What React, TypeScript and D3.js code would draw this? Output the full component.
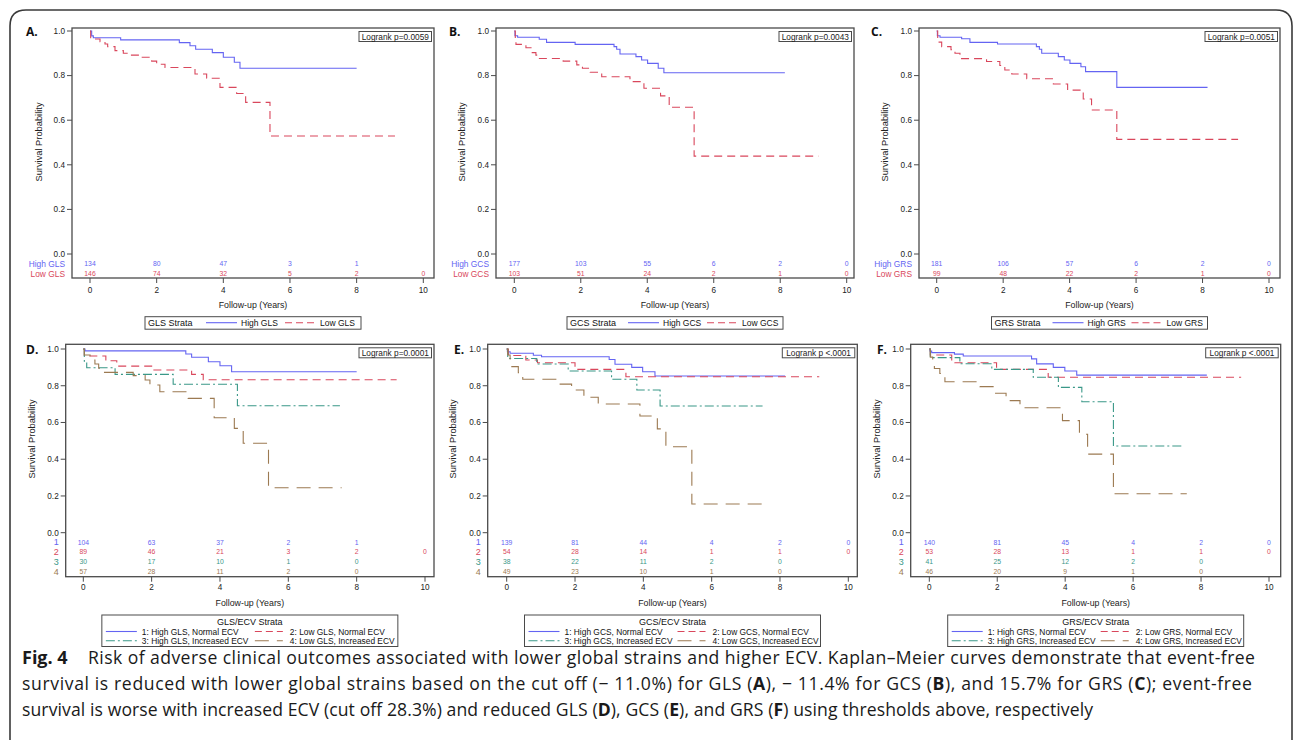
import React from 'react';
import * as d3 from 'd3';

type Pt = [number, number];

// ---------- data ----------
const yearTicks = [0, 2, 4, 6, 8, 10];
const survTicks = [0, 0.2, 0.4, 0.6, 0.8, 1.0];

// Panel A (GLS)
const glsHigh: Pt[] = [[0, 1], [0.05, 0.978], [0.1, 0.97], [0.92, 0.96], [2.68, 0.948], [3.0, 0.934], [3.17, 0.918], [3.67, 0.903], [4.0, 0.882], [4.33, 0.86], [4.5, 0.833], [8.0, 0.833]];
const glsLow: Pt[] = [[0, 1], [0.02, 0.964], [0.3, 0.952], [0.45, 0.942], [0.53, 0.93], [0.75, 0.912], [1.0, 0.9], [1.2, 0.892], [1.48, 0.882], [1.85, 0.865], [2.0, 0.851], [2.25, 0.836], [3.15, 0.807], [3.5, 0.788], [3.9, 0.747], [4.4, 0.72], [4.67, 0.68], [5.4, 0.529], [9.15, 0.529]];
// Panel B (GCS)
const gcsHigh: Pt[] = [[0, 1], [0.02, 0.979], [0.1, 0.972], [0.75, 0.963], [0.97, 0.949], [1.83, 0.94], [3.0, 0.93], [3.08, 0.918], [3.18, 0.897], [3.66, 0.885], [3.83, 0.87], [4.01, 0.855], [4.33, 0.833], [4.5, 0.813], [8.14, 0.813]];
const gcsLow: Pt[] = [[0, 1], [0.03, 0.965], [0.05, 0.94], [0.35, 0.925], [0.52, 0.903], [0.65, 0.892], [0.72, 0.877], [1.47, 0.865], [1.88, 0.848], [2.05, 0.833], [2.28, 0.815], [2.63, 0.795], [3.48, 0.773], [3.9, 0.743], [4.4, 0.709], [4.66, 0.658], [5.41, 0.439], [9.15, 0.439]];
// Panel C (GRS)
const grsHigh: Pt[] = [[0, 1], [0.02, 0.979], [0.1, 0.972], [0.75, 0.965], [1.0, 0.949], [1.83, 0.942], [3.0, 0.93], [3.09, 0.918], [3.16, 0.9], [3.66, 0.885], [3.84, 0.87], [4.01, 0.855], [4.34, 0.84], [4.48, 0.818], [5.42, 0.747], [8.15, 0.747]];
const grsLow: Pt[] = [[0, 1], [0.03, 0.962], [0.05, 0.95], [0.15, 0.93], [0.43, 0.916], [0.55, 0.9], [0.7, 0.876], [1.5, 0.863], [1.9, 0.845], [2.05, 0.825], [2.26, 0.807], [2.71, 0.786], [3.51, 0.762], [3.94, 0.735], [4.41, 0.695], [4.66, 0.646], [5.42, 0.514], [9.07, 0.514]];
// Panel D (GLS/ECV)
const glsEcv1: Pt[] = [[0, 1], [0.05, 0.99], [3.0, 0.973], [3.17, 0.955], [3.66, 0.931], [4.0, 0.909], [4.34, 0.876], [8.0, 0.876]];
const glsEcv2: Pt[] = [[0, 1], [0.03, 0.962], [0.66, 0.936], [0.98, 0.907], [2.0, 0.886], [3.17, 0.862], [3.51, 0.833], [9.17, 0.833]];
const glsEcv3: Pt[] = [[0, 1], [0.03, 0.933], [0.1, 0.898], [0.93, 0.862], [2.63, 0.808], [4.51, 0.691], [7.51, 0.691]];
const glsEcv4: Pt[] = [[0, 1], [0.03, 0.967], [0.2, 0.94], [0.34, 0.918], [0.45, 0.895], [0.54, 0.873], [1.46, 0.855], [1.81, 0.831], [1.95, 0.804], [2.24, 0.767], [3.07, 0.731], [3.83, 0.626], [4.42, 0.568], [4.68, 0.487], [5.42, 0.245], [7.56, 0.245]];
// Panel E (GCS/ECV)
const gcsEcv1: Pt[] = [[0, 1], [0.02, 0.985], [0.1, 0.977], [0.78, 0.966], [1.02, 0.958], [3.0, 0.943], [3.17, 0.917], [3.66, 0.9], [3.98, 0.876], [4.34, 0.853], [8.15, 0.853]];
const gcsEcv2: Pt[] = [[0, 1], [0.05, 0.965], [0.56, 0.94], [0.9, 0.925], [2.0, 0.889], [3.49, 0.849], [9.15, 0.849]];
const gcsEcv3: Pt[] = [[0, 1], [0.03, 0.948], [0.88, 0.918], [1.8, 0.88], [3.07, 0.835], [3.81, 0.777], [4.49, 0.69], [7.49, 0.69]];
const gcsEcv4: Pt[] = [[0, 1], [0.03, 0.967], [0.1, 0.93], [0.15, 0.904], [0.34, 0.871], [0.47, 0.835], [1.46, 0.809], [1.9, 0.777], [2.26, 0.737], [2.68, 0.701], [3.9, 0.635], [4.41, 0.565], [4.66, 0.468], [5.42, 0.156], [7.58, 0.156]];
// Panel F (GRS/ECV)
const grsEcv1: Pt[] = [[0, 1], [0.02, 0.989], [0.07, 0.98], [0.74, 0.972], [1.0, 0.962], [3.01, 0.946], [3.16, 0.919], [3.65, 0.9], [3.99, 0.88], [4.34, 0.858], [8.17, 0.858]];
const grsEcv2: Pt[] = [[0, 1], [0.03, 0.967], [0.66, 0.94], [0.75, 0.925], [1.98, 0.889], [3.5, 0.846], [9.18, 0.846]];
const grsEcv3: Pt[] = [[0, 1], [0.03, 0.953], [0.9, 0.92], [1.84, 0.889], [3.06, 0.846], [3.8, 0.791], [4.49, 0.713], [5.42, 0.472], [7.43, 0.472]];
const grsEcv4: Pt[] = [[0, 1], [0.03, 0.956], [0.1, 0.93], [0.15, 0.894], [0.31, 0.867], [0.46, 0.822], [1.49, 0.795], [1.93, 0.759], [2.26, 0.719], [2.67, 0.68], [3.92, 0.61], [4.42, 0.536], [4.66, 0.428], [5.42, 0.212], [7.58, 0.212]];

// numbers at risk
const riskA = [[134, 80, 47, 3, 1], [146, 74, 32, 5, 2, 0]];
const riskB = [[177, 103, 55, 6, 2, 0], [103, 51, 24, 2, 1, 0]];
const riskC = [[181, 106, 57, 6, 2, 0], [99, 48, 22, 2, 1, 0]];
const riskD = [[104, 63, 37, 2, 1], [89, 46, 21, 3, 2, 0], [30, 17, 10, 1, 0], [57, 28, 11, 2, 0]];
const riskE = [[139, 81, 44, 4, 2, 0], [54, 28, 14, 1, 1, 0], [38, 22, 11, 2, 0], [49, 23, 10, 1, 0]];
const riskF = [[140, 81, 45, 4, 2, 0], [53, 28, 13, 1, 1, 0], [41, 25, 12, 2, 0], [46, 20, 9, 1, 0]];

const pValues = ['Logrank p=0.0059', 'Logrank p=0.0043', 'Logrank p=0.0051', 'Logrank p=0.0001', 'Logrank p <.0001', 'Logrank p <.0001'];
const panelLetters = ['A.', 'B.', 'C.', 'D.', 'E.', 'F.'];
const strainNames = ['GLS', 'GCS', 'GRS'];

// ---------- styles ----------
const COLORS = ['#6464f2', '#d9475c', '#3a9888', '#9c7a52'];
const DASHES = ['', '8,5', '9,3,2,3', '14,8'];
const FONT = '"Liberation Sans", Arial, sans-serif';
const AXIS = '#4a4a4a';

type Layout = {
  fl: number; fr: number; ft: number; fb: number;
  x0: number; x10: number; y1: number; y0: number;
  rows: number[]; tickY: number; titleY: number; legTop: number;
  ylabX: number; ylabY: number; letterX: number; letterY: number;
};

const top = { ft: 28, fb: 278, y1: 31, y0: 254, rows: [264, 273.7], tickY: 290, titleY: 305, legTop: 316.7, ylabY: 142, letterY: 36 };
const bot = { ft: 344.3, fb: 576.7, y1: 349, y0: 532.7, rows: [542.3, 552, 562, 571.7], tickY: 587, titleY: 603, legTop: 615, ylabY: 439, letterY: 354 };

const layouts: Layout[] = [
  { ...top, fl: 72, fr: 434, x0: 90, x10: 423.3, ylabX: 39, letterX: 26 },
  { ...top, fl: 496, fr: 854, x0: 514.3, x10: 846.7, ylabX: 461.7, letterX: 449 },
  { ...top, fl: 919, fr: 1280, x0: 936.7, x10: 1269, ylabX: 885, letterX: 871 },
  { ...bot, fl: 65.7, fr: 434, x0: 83.3, x10: 425, ylabX: 32, letterX: 26 },
  { ...bot, fl: 487.7, fr: 857.3, x0: 506.7, x10: 848.3, ylabX: 453, letterX: 454 },
  { ...bot, fl: 910.7, fr: 1280.7, x0: 929.3, x10: 1269, ylabX: 877, letterX: 877 },
];

const panelCurves: Pt[][][] = [
  [glsHigh, glsLow], [gcsHigh, gcsLow], [grsHigh, grsLow],
  [glsEcv1, glsEcv2, glsEcv3, glsEcv4], [gcsEcv1, gcsEcv2, gcsEcv3, gcsEcv4], [grsEcv1, grsEcv2, grsEcv3, grsEcv4],
];
const panelRisk = [riskA, riskB, riskC, riskD, riskE, riskF];

function Panel({ idx }: { idx: number }) {
  const L = layouts[idx];
  const curves = panelCurves[idx];
  const risk = panelRisk[idx];
  const name = strainNames[idx % 3];
  const isTop = idx < 3;
  const x = d3.scaleLinear().domain([0, 10]).range([L.x0, L.x10]);
  const y = d3.scaleLinear().domain([0, 1]).range([L.y0, L.y1]);
  const line = d3.line<Pt>().x(d => x(d[0])).y(d => y(d[1])).curve(d3.curveStepAfter);
  const rowLabels = isTop ? [`High ${name}`, `Low ${name}`] : ['1', '2', '3', '4'];
  const cx = (L.fl + L.fr) / 2;
  const legW = isTop ? 216 : 296;
  const legL = cx - legW / 2;
  const botLabels = [`1: High ${name}, Normal ECV`, `2: Low ${name}, Normal ECV`, `3: High ${name}, Increased ECV`, `4: Low ${name}, Increased ECV`];
  const LF = 8.5;
  return (
    <g fontFamily={FONT}>
      <text x={L.letterX} y={L.letterY} fontFamily='"Open Sans", sans-serif' fontWeight="bold" fontSize={12} fill="#111">{panelLetters[idx]}</text>
      {curves.map((c, i) => (
        <path key={i} d={line(c) || ''} fill="none" stroke={COLORS[i]} strokeWidth={1.1} strokeDasharray={DASHES[i]} />
      ))}
      <rect x={L.fl} y={L.ft} width={L.fr - L.fl} height={L.fb - L.ft} fill="none" stroke={AXIS} strokeWidth={1.3} />
      {survTicks.map(t => (
        <g key={t}>
          <line x1={L.fl - 5} x2={L.fl} y1={y(t)} y2={y(t)} stroke={AXIS} strokeWidth={1} />
          <text x={L.fl - 7} y={y(t)} dy="0.35em" textAnchor="end" fontSize={8.2} fill="#222">{t.toFixed(1)}</text>
        </g>
      ))}
      {yearTicks.map(t => (
        <g key={t}>
          <line x1={x(t)} x2={x(t)} y1={L.fb} y2={L.fb + 5} stroke={AXIS} strokeWidth={1} />
          <text x={x(t)} y={L.tickY} dy="0.35em" textAnchor="middle" fontSize={8.2} fill="#222">{t}</text>
        </g>
      ))}
      <text x={cx} y={L.titleY} dy="0.35em" textAnchor="middle" fontSize={8.8} fill="#222">Follow-up (Years)</text>
      <text transform={`translate(${L.ylabX},${L.ylabY}) rotate(-90)`} dy="0.35em" textAnchor="middle" fontSize={9.3} fill="#222">Survival Probability</text>
      <rect x={L.fr - 75} y={L.ft + 3.5} width={72.5} height={10} fill="#fff" stroke={AXIS} strokeWidth={1} />
      <text x={L.fr - 38.7} y={L.ft + 8.7} dy="0.35em" textAnchor="middle" fontSize={8.3} fill="#222">{pValues[idx]}</text>
      {risk.map((row, r) => (
        <g key={r} fill={COLORS[r]}>
          <text x={L.fl - 7} y={L.rows[r]} dy="0.35em" textAnchor="end" fontSize={isTop ? 8.4 : 9}>{rowLabels[r]}</text>
          {row.map((v, k) => (
            <text key={k} x={x(yearTicks[k])} y={L.rows[r]} dy="0.35em" textAnchor="middle" fontSize={6.8}>{v}</text>
          ))}
        </g>
      ))}
      {isTop ? (
        <g>
          <rect x={legL} y={L.legTop} width={legW} height={12.5} fill="#fff" stroke={AXIS} strokeWidth={1} />
          <text x={legL + 3} y={L.legTop + 6.3} dy="0.35em" fontSize={9} fill="#111">{`${name} Strata`}</text>
          <line x1={legL + 61} x2={legL + 92} y1={L.legTop + 6} y2={L.legTop + 6} stroke={COLORS[0]} strokeWidth={1.1} />
          <text x={legL + 96} y={L.legTop + 6.3} dy="0.35em" fontSize={LF} fill="#111">{`High ${name}`}</text>
          <line x1={legL + 140} x2={legL + 169} y1={L.legTop + 6} y2={L.legTop + 6} stroke={COLORS[1]} strokeWidth={1.1} strokeDasharray="7,4" />
          <text x={legL + 175} y={L.legTop + 6.3} dy="0.35em" fontSize={LF} fill="#111">{`Low ${name}`}</text>
        </g>
      ) : (
        <g>
          <rect x={legL} y={L.legTop} width={legW} height={31.5} fill="#fff" stroke={AXIS} strokeWidth={1} />
          <text x={legL + legW / 2} y={L.legTop + 7} dy="0.35em" textAnchor="middle" fontSize={9} fill="#111">{`${name}/ECV Strata`}</text>
          {botLabels.map((lab, i) => {
            const col = i % 2, row = Math.floor(i / 2);
            const ly = L.legTop + 16.5 + row * 9.3;
            const lx = legL + (col === 0 ? 4 : 153);
            return (
              <g key={i}>
                <line x1={lx} x2={lx + (col === 0 ? 31 : 28)} y1={ly} y2={ly} stroke={COLORS[i]} strokeWidth={1.1} strokeDasharray={i === 1 ? '7,4' : DASHES[i]} />
                <text x={lx + (col === 0 ? 36 : 35)} y={ly + 0.3} dy="0.35em" fontSize={8.4} fill="#111">{lab}</text>
              </g>
            );
          })}
        </g>
      )}
    </g>
  );
}

export default function App() {
  const capFont = '"Open Sans", sans-serif';
  const capSize = 17.6;
  return (
    <svg width={1295} height={740} style={{ position: 'absolute', left: 0, top: 0, background: '#fff' }}>
      <rect width={1295} height={740} fill="#fff" />
      <path d="M10,760 L10,26 Q10,10 26,10 L1276,10 Q1292,10 1292,26 L1292,760" fill="none" stroke="#3a3a3a" strokeWidth={1.6} />
      {[0, 1, 2, 3, 4, 5].map(i => <Panel key={i} idx={i} />)}
      <g fontFamily={capFont} fontSize={capSize} fill="#1a1a1a">
        <text x={22} y={664} fontWeight="bold" fontSize={18}>Fig. 4</text>
        <text x={88} y={664} textLength={1167} lengthAdjust="spacing">Risk of adverse clinical outcomes associated with lower global strains and higher ECV. Kaplan–Meier curves demonstrate that event-free</text>
        <text x={22} y={690} textLength={1230} lengthAdjust="spacing">
          survival is reduced with lower global strains based on the cut off (− 11.0%) for GLS (<tspan fontWeight="bold">A</tspan>), − 11.4% for GCS (<tspan fontWeight="bold">B</tspan>), and 15.7% for GRS (<tspan fontWeight="bold">C</tspan>); event-free
        </text>
        <text x={22} y={716} textLength={1071} lengthAdjust="spacing">
          survival is worse with increased ECV (cut off 28.3%) and reduced GLS (<tspan fontWeight="bold">D</tspan>), GCS (<tspan fontWeight="bold">E</tspan>), and GRS (<tspan fontWeight="bold">F</tspan>) using thresholds above, respectively
        </text>
      </g>
    </svg>
  );
}
